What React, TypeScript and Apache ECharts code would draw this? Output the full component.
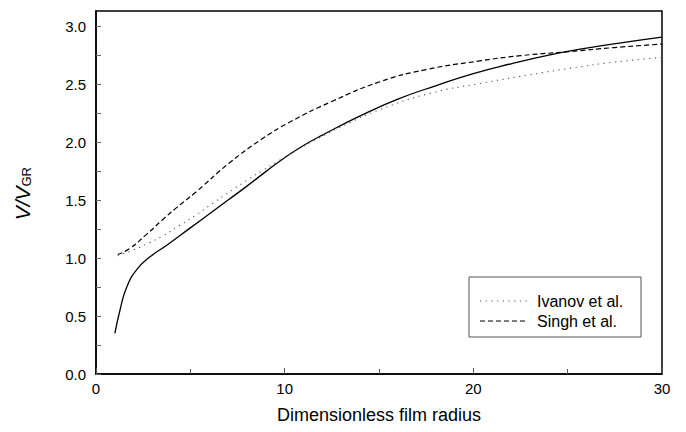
import React, { useEffect, useRef } from "react";
import * as echarts from "echarts";

// Solid curve (present model)
const solidX = [1.0, 1.27, 1.63, 2.16, 2.86, 3.75, 5.0, 6.0, 7.0, 8.0, 9.0, 10.0, 11.0, 12.0, 14.0, 16.0, 18.0, 20.0, 22.0, 24.0, 26.0, 28.0, 30.0];
const solidY = [0.35, 0.55, 0.75, 0.9, 1.01, 1.11, 1.26, 1.38, 1.5, 1.62, 1.745, 1.865, 1.97, 2.06, 2.225, 2.37, 2.485, 2.59, 2.675, 2.75, 2.81, 2.86, 2.905];

// Ivanov et al. (dotted)
const ivanovX = [1.15, 2.0, 2.8, 3.53, 4.42, 5.3, 6.0, 7.07, 8.13, 8.83, 9.6, 10.6, 11.52, 13.3, 15.05, 17.7, 20.35, 23.0, 25.1, 27.5, 30.0];
const ivanovY = [1.02, 1.07, 1.13, 1.19, 1.28, 1.37, 1.45, 1.57, 1.685, 1.755, 1.83, 1.925, 2.01, 2.155, 2.28, 2.42, 2.505, 2.58, 2.635, 2.69, 2.73];

// Singh et al. (dashed)
const singhX = [1.15, 1.77, 2.65, 3.53, 4.24, 5.3, 7.07, 8.83, 10.25, 12.5, 15.05, 17.5, 20.35, 22.5, 25.1, 27.5, 30.0];
const singhY = [1.03, 1.08, 1.2, 1.33, 1.43, 1.57, 1.82, 2.03, 2.17, 2.35, 2.52, 2.625, 2.7, 2.745, 2.78, 2.815, 2.845];

const yLabelValues = [0, 0.5, 1.0, 1.5, 2.0, 2.5, 3.0];
const yTickValues = [0, 0.25, 0.5, 0.75, 1.0, 1.25, 1.5, 1.75, 2.0, 2.25, 2.5, 2.75, 3.0];
const legendNames = ["Ivanov et al.", "Singh et al."];

const FONT = "'Liberation Sans', Arial, Helvetica, sans-serif";

const pairs = (xs: number[], ys: number[]) => xs.map((x, i) => [x, ys[i]]);

export default function App() {
  const ref = useRef<HTMLDivElement>(null);
  useEffect(() => {
    if (!ref.current) return;
    const chart = echarts.init(ref.current, null, { renderer: "svg" });
    chart.setOption({
      animation: false,
      backgroundColor: "#fff",
      grid: {
        left: 96,
        right: 24,
        top: 11,
        bottom: 58,
        show: true,
        borderColor: "#000",
        borderWidth: 1.5,
        backgroundColor: "transparent",
      },
      xAxis: {
        type: "value",
        min: 0,
        max: 30,
        interval: 10,
        name: "Dimensionless film radius",
        nameLocation: "middle",
        nameGap: 32,
        nameTextStyle: { fontSize: 18, color: "#000", fontFamily: FONT },
        axisLine: { lineStyle: { color: "#000", width: 1.5 } },
        axisTick: { inside: true, length: 6, lineStyle: { color: "#555" } },
        minorTick: { show: true, splitNumber: 2, length: 5, lineStyle: { color: "#555" } },
        splitLine: { show: false },
        axisLabel: { fontSize: 15, color: "#000", margin: 7, fontFamily: FONT },
      },
      yAxis: {
        type: "value",
        min: 0,
        max: 3.13,
        axisLine: { show: true, lineStyle: { color: "#000", width: 1.5 } },
        axisTick: { show: true, inside: true, length: 5, customValues: yTickValues, lineStyle: { color: "#666" } },
        splitLine: { show: false },
        axisLabel: {
          fontSize: 15,
          color: "#000",
          margin: 10,
          fontFamily: FONT,
          customValues: yLabelValues,
          formatter: (v: number) => v.toFixed(1),
        },
      },
      series: [
        {
          type: "line",
          name: "present",
          data: pairs(solidX, solidY),
          smooth: true,
          showSymbol: false,
          lineStyle: { color: "#000", width: 1.3 },
        },
        {
          type: "line",
          name: legendNames[0],
          data: pairs(ivanovX, ivanovY),
          smooth: true,
          showSymbol: false,
          lineStyle: { color: "#555", width: 1.1, type: [1.2, 4.5] },
        },
        {
          type: "line",
          name: legendNames[1],
          data: pairs(singhX, singhY),
          smooth: true,
          showSymbol: false,
          lineStyle: { color: "#000", width: 1.2, type: [5, 3] },
        },
      ],
      graphic: [
        {
          type: "group",
          x: 0,
          y: 196.5,
          rotation: Math.PI / 2,
          children: [
            {
              type: "text",
              x: 10,
              y: 33,
              style: {
                text: "V/V",
                fontSize: 21,
                fontStyle: "italic",
                fontFamily: FONT,
                fill: "#000",
                align: "right",
                verticalAlign: "bottom",
              },
            },
            {
              type: "text",
              x: 10,
              y: 33,
              style: {
                text: "GR",
                fontSize: 13,
                fontFamily: FONT,
                fill: "#000",
                align: "left",
                verticalAlign: "bottom",
              },
            },
          ],
        },
        {
          type: "rect",
          shape: { x: 469, y: 277, width: 172, height: 60 },
          style: { fill: "#fff", stroke: "#555", lineWidth: 1 },
        },
        {
          type: "line",
          shape: { x1: 480, y1: 301, x2: 527, y2: 301 },
          style: { stroke: "#555", lineWidth: 1.1, lineDash: [1.2, 4.5] },
        },
        {
          type: "line",
          shape: { x1: 480, y1: 321, x2: 527, y2: 321 },
          style: { stroke: "#000", lineWidth: 1.2, lineDash: [5, 3] },
        },
        {
          type: "text",
          x: 537,
          y: 301,
          style: { text: legendNames[0], fontSize: 16, fontFamily: FONT, fill: "#000", verticalAlign: "middle" },
        },
        {
          type: "text",
          x: 537,
          y: 321,
          style: { text: legendNames[1], fontSize: 16, fontFamily: FONT, fill: "#000", verticalAlign: "middle" },
        },
      ],
    });
    return () => chart.dispose();
  }, []);
  return (
    <div
      ref={ref}
      style={{ position: "fixed", left: 0, top: 0, width: 686, height: 432, background: "#fff" }}
    />
  );
}
